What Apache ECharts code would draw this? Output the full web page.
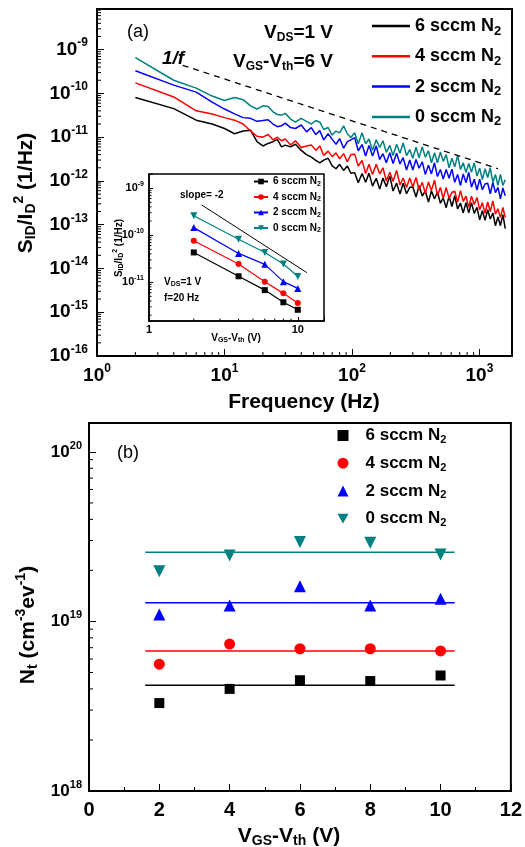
<!DOCTYPE html>
<html>
<head>
<meta charset="utf-8">
<script src="https://cdn.jsdelivr.net/npm/echarts@6/dist/echarts.min.js"></script>
<style>
html, body { margin: 0; padding: 0; background: #fff; }
#chart { width: 525px; height: 847px; }
</style>
</head>
<body>
<div id="chart"></div>
<script>
var dom = document.getElementById("chart");
var myChart = echarts.init(dom);
var option = null;

var FONT = '"Liberation Sans", Arial, sans-serif';

// ---- panel (a): noise spectra ----
var freq = [2, 4, 6, 8, 10, 12, 14, 16, 18, 20, 22, 24, 26, 28, 30, 33, 36, 40, 44, 48,
    52, 56, 60, 65, 70, 75, 80, 86, 92, 98, 105, 112, 120, 128, 136, 145, 155, 165, 175, 186,
    198, 210, 224, 238, 252, 268, 284, 300, 318, 336, 356, 376, 398, 420, 444, 468, 494, 520, 548, 578,
    608, 640, 674, 710, 746, 784, 824, 866, 910, 956, 1004, 1054, 1106, 1160, 1216, 1274, 1334, 1396, 1460, 1526,
    1594];

var spec6 = [8.1e-11, 4.5e-11, 2.45e-11, 2.0e-11, 1.58e-11, 1.2e-11, 1.38e-11, 1.45e-11, 7.9e-12, 6.3e-12,
    7.2e-12, 7.9e-12, 8.9e-12, 6.0e-12, 6.6e-12, 6.0e-12, 6.9e-12, 5.0e-12, 4.0e-12, 3.5e-12,
    2.95e-12, 2.6e-12, 3.0e-12, 3.3e-12, 2.2e-12, 1.9e-12, 2.4e-12, 1.74e-12, 2.2e-12, 1.5e-12,
    1.55e-12, 9.1e-13, 1.48e-12, 9.3e-13, 1.51e-12, 7.6e-13, 1.15e-12, 6.5e-13, 1.17e-12, 7.4e-13,
    1.29e-12, 5.9e-13, 8.9e-13, 5.0e-13, 8.9e-13, 5.1e-13, 7.1e-13, 7.4e-13, 4.3e-13, 7.8e-13,
    4.5e-13, 5.9e-13, 3.3e-13, 5.9e-13, 3.9e-13, 5.6e-13, 3.1e-13, 4.1e-13, 2.45e-13, 4.5e-13,
    2.6e-13, 4.6e-13, 2.3e-13, 3.1e-13, 1.86e-13, 3.2e-13, 1.86e-13, 3.2e-13, 1.82e-13, 2.5e-13,
    1.29e-13, 2.1e-13, 1.26e-13, 2.2e-13, 1.35e-13, 1.86e-13, 9.5e-14, 1.51e-13, 9.5e-14, 1.7e-13,
    8.1e-14];
var spec4 = [1.74e-10, 8.3e-11, 4.0e-11, 3.4e-11, 2.8e-11, 2.45e-11, 2.0e-11, 1.38e-11, 1.05e-11, 1.0e-11,
    1.15e-11, 8.7e-12, 1.0e-11, 8.3e-12, 9.1e-12, 6.6e-12, 8.3e-12, 5.8e-12, 6.3e-12, 6.6e-12,
    5.0e-12, 6.3e-12, 3.8e-12, 4.8e-12, 3.6e-12, 4.4e-12, 3.2e-12, 4.2e-12, 2.75e-12, 4.0e-12,
    4.1e-12, 2.2e-12, 2.95e-12, 1.48e-12, 2.4e-12, 1.41e-12, 2.4e-12, 1.45e-12, 2.0e-12, 1.0e-12,
    1.58e-12, 9.8e-13, 1.74e-12, 8.1e-13, 1.17e-12, 7.1e-13, 1.17e-12, 7.4e-13, 1.2e-12, 6.2e-13,
    9.3e-13, 5.2e-13, 9.5e-13, 6.0e-13, 1.05e-12, 4.7e-13, 7.1e-13, 4.0e-13, 7.1e-13, 4.0e-13,
    5.5e-13, 5.8e-13, 3.3e-13, 6.0e-13, 3.4e-13, 4.5e-13, 2.5e-13, 4.5e-13, 2.9e-13, 4.2e-13,
    2.2e-13, 3.2e-13, 1.82e-13, 3.3e-13, 2.0e-13, 3.5e-13, 1.74e-13, 2.3e-13, 1.45e-13, 2.5e-13,
    1.45e-13];
var spec2 = [3.3e-10, 1.55e-10, 1.07e-10, 6.3e-11, 4.4e-11, 3.4e-11, 2.8e-11, 2.7e-11, 2.3e-11, 2.4e-11,
    2.5e-11, 2.0e-11, 1.74e-11, 1.82e-11, 2.1e-11, 1.66e-11, 1.58e-11, 1.9e-11, 1.32e-11, 1.66e-11,
    1.15e-11, 1.41e-11, 8.7e-12, 1.2e-11, 8.9e-12, 6.9e-12, 9.3e-12, 5.6e-12, 7.9e-12, 8.7e-12,
    9.8e-12, 4.9e-12, 6.8e-12, 3.7e-12, 6.5e-12, 3.7e-12, 6.3e-12, 3.1e-12, 4.2e-12, 2.6e-12,
    4.4e-12, 2.5e-12, 4.3e-12, 2.45e-12, 3.4e-12, 1.78e-12, 3.0e-12, 1.78e-12, 3.1e-12, 1.95e-12,
    2.75e-12, 1.41e-12, 2.3e-12, 1.45e-12, 2.6e-12, 1.26e-12, 1.82e-12, 1.1e-12, 1.82e-12, 1.15e-12,
    1.86e-12, 9.3e-13, 1.41e-12, 7.9e-13, 1.45e-12, 9.1e-13, 1.58e-12, 7.2e-13, 1.1e-12, 6.2e-13,
    1.1e-12, 6.3e-13, 8.5e-13, 8.9e-13, 5.1e-13, 9.3e-13, 5.4e-13, 7.1e-13, 3.9e-13, 6.9e-13,
    4.6e-13];
var spec0 = [6.6e-10, 2.0e-10, 1.32e-10, 8.7e-11, 6.9e-11, 8.1e-11, 7.2e-11, 5.2e-11, 4.4e-11, 5.2e-11,
    5.0e-11, 3.8e-11, 3.3e-11, 3.2e-11, 3.5e-11, 2.6e-11, 2.2e-11, 2.7e-11, 2.3e-11, 2.0e-11,
    2.4e-11, 2.2e-11, 1.5e-11, 1.66e-11, 1.12e-11, 1.38e-11, 1.26e-11, 1.82e-11, 1.2e-11, 9.8e-12,
    1.26e-11, 7.1e-12, 1.26e-11, 7.1e-12, 9.1e-12, 5.0e-12, 8.7e-12, 5.8e-12, 8.3e-12, 4.5e-12,
    6.5e-12, 3.8e-12, 6.9e-12, 4.3e-12, 7.4e-12, 3.8e-12, 5.2e-12, 3.3e-12, 5.9e-12, 3.4e-12,
    6.0e-12, 3.5e-12, 4.9e-12, 2.6e-12, 4.4e-12, 2.6e-12, 4.6e-12, 2.8e-12, 4.0e-12, 2.0e-12,
    3.3e-12, 2.1e-12, 3.8e-12, 1.82e-12, 2.6e-12, 1.55e-12, 2.5e-12, 1.58e-12, 2.6e-12, 1.29e-12,
    1.95e-12, 1.07e-12, 1.9e-12, 1.2e-12, 2.0e-12, 9.3e-13, 1.41e-12, 7.9e-13, 1.41e-12, 7.9e-13,
    1.07e-12];
var oneOverF = [[4.7, 4.4e-10], [1400, 1.9e-12]];

// ---- inset: S/I^2 at 20 Hz vs VGS-Vth ----
var insetV = [2, 4, 6, 8, 10];
var inset6 = [4.3e-11, 1.34e-11, 6.8e-12, 3.75e-12, 2.6e-12];
var inset4 = [7.6e-11, 2.45e-11, 1.03e-11, 5.8e-12, 3.6e-12];
var inset2 = [1.45e-10, 4.1e-11, 2.4e-11, 1.03e-11, 7.4e-12];
var inset0 = [2.6e-10, 8.2e-11, 4.3e-11, 2.45e-11, 1.32e-11];
var slopeLine = [[2.26, 4.4e-10], [11.5, 1.6e-11]];

// ---- panel (b): trap density ----
var vgs = [2, 4, 6, 8, 10];
var nt6 = [3.3e18, 4.0e18, 4.5e18, 4.45e18, 4.8e18];
var nt4 = [5.6e18, 7.35e18, 6.9e18, 6.9e18, 6.7e18];
var nt2 = [1.1e19, 1.24e19, 1.61e19, 1.24e19, 1.36e19];
var nt0 = [1.98e19, 2.45e19, 2.94e19, 2.91e19, 2.48e19];
var ntFit = [4.2e18, 6.7e18, 1.29e19, 2.56e19];
var fitRange = [1.6, 10.4];

var labels = ['6 sccm N', '4 sccm N', '2 sccm N', '0 sccm N'];
var colors = ['#000000', '#ff0000', '#0000ff', '#008080'];
var symbols = ['rect', 'circle', 'triangle', 'path://M0,0L10,0L5,9Z'];

function pairs(xs, ys) {
    return xs.map(function (x, i) { return [x, ys[i]]; });
}

function rich(base, small, up, down) {
    return {
        b: {fontSize: base, fontWeight: 'bold', fontFamily: FONT, color: '#000', fill: '#000'},
        p: {fontSize: small, fontWeight: 'bold', fontFamily: FONT, color: '#000', fill: '#000', padding: [0, 0, up, 0]},
        d: {fontSize: small, fontWeight: 'bold', fontFamily: FONT, color: '#000', fill: '#000', padding: [down, 0, 0, 0]},
        n: {fontSize: base, fontWeight: 'normal', fontFamily: FONT, color: '#000', fill: '#000'},
        i: {fontSize: base, fontWeight: 'bold', fontStyle: 'italic', fontFamily: FONT, color: '#000', fill: '#000'}
    };
}

function powLabel(v) {
    var l = Math.log10(v);
    var e = Math.round(l);
    if (Math.abs(l - e) > 1e-6) return '';
    return '{b|10}{p|' + e + '}';
}

// minor ticks at 2..9 x 10^k between lo and hi
function logMinors(lo, hi) {
    var out = [];
    for (var k = Math.floor(Math.log10(lo)); k <= Math.ceil(Math.log10(hi)); k++) {
        for (var m = 2; m <= 9; m++) {
            var v = m * Math.pow(10, k);
            if (v > lo && v < hi) out.push(v);
        }
    }
    return out;
}

function minorTicks(gi, vals, dim, base, len, z) {
    return {
        type: 'custom',
        xAxisIndex: gi, yAxisIndex: gi,
        silent: true, clip: false, z: z || 5,
        data: vals.map(function (v) { return dim === 'x' ? [v, base] : [base, v]; }),
        renderItem: function (params, api) {
            var p = api.coord([api.value(0), api.value(1)]);
            var shape = dim === 'x'
                ? {x1: p[0], y1: p[1], x2: p[0], y2: p[1] - len}
                : {x1: p[0], y1: p[1], x2: p[0] + len, y2: p[1]};
            return {type: 'line', shape: shape, style: {stroke: '#000', lineWidth: 1}};
        }
    };
}

function txt(x, y, text, r, align, rot, z) {
    return {
        type: 'text', x: x, y: y, rotation: rot || 0, z: z || 50,
        style: {
            text: text, rich: r, x: 0, y: 0, fill: '#000',
            fontFamily: FONT, fontWeight: 'bold', fontSize: 14,
            align: align, textAlign: align,
            verticalAlign: 'middle', textVerticalAlign: 'middle'
        }
    };
}

var axisLineStyle = {show: true, lineStyle: {color: '#000', width: 2}};
var tickStyle = {show: true, inside: true, length: 7, lineStyle: {color: '#000', width: 1}};
var insetTick = {show: true, inside: true, length: 4, lineStyle: {color: '#000', width: 1}};

var series = [];

// panel (a) spectra
[spec6, spec4, spec2, spec0].forEach(function (s, i) {
    series.push({
        name: 'a' + i, type: 'line', xAxisIndex: 0, yAxisIndex: 0,
        data: pairs(freq, s), symbol: 'none', showSymbol: false,
        lineStyle: {color: colors[i], width: 1.5}, itemStyle: {color: colors[i]},
        z: 2, animation: false
    });
});
series.push({
    type: 'line', xAxisIndex: 0, yAxisIndex: 0, data: oneOverF, symbol: 'none',
    lineStyle: {color: '#000', width: 1.3, type: [6, 5]}, z: 2, animation: false
});

// inset
[inset6, inset4, inset2, inset0].forEach(function (s, i) {
    series.push({
        name: 'i' + i, type: 'line', xAxisIndex: 1, yAxisIndex: 1,
        data: pairs(insetV, s), symbol: symbols[i], symbolSize: i < 2 ? 6 : 7,
        lineStyle: {color: colors[i], width: 1.2}, itemStyle: {color: colors[i]},
        z: 8, animation: false
    });
});
series.push({
    type: 'line', xAxisIndex: 1, yAxisIndex: 1, data: slopeLine, symbol: 'none',
    lineStyle: {color: '#000', width: 1}, z: 8, animation: false
});

// panel (b)
[nt6, nt4, nt2, nt0].forEach(function (s, i) {
    series.push({
        name: 'b' + i, type: 'scatter', xAxisIndex: 2, yAxisIndex: 2,
        data: pairs(vgs, s), symbol: symbols[i], symbolSize: [10, 11, 12, 12][i],
        itemStyle: {color: colors[i], opacity: 1}, z: 4, animation: false
    });
    series.push({
        type: 'line', xAxisIndex: 2, yAxisIndex: 2,
        data: [[fitRange[0], ntFit[i]], [fitRange[1], ntFit[i]]], symbol: 'none',
        lineStyle: {color: colors[i], width: 1.5}, z: 3, animation: false
    });
});

// minor ticks
series.push(minorTicks(0, logMinors(1, 1800), 'x', 1e-16, 4));
series.push(minorTicks(0, logMinors(1e-16, 8.5e-9), 'y', 1, 4));
series.push(minorTicks(1, logMinors(1, 15), 'x', 1.5e-12, 2.5, 9));
series.push(minorTicks(1, logMinors(1.5e-12, 2e-9), 'y', 1, 2.5, 9));
series.push(minorTicks(2, logMinors(1e18, 1.48e20), 'y', 0, 4));

function legendFmt(n) {
    return '{b|' + labels[+n.slice(1)] + '}{d|2}';
}

option = {
    backgroundColor: '#fff',
    animation: false,
    grid: [
        {left: 97, top: 9, width: 415, height: 347, show: true, borderColor: '#000', borderWidth: 2, backgroundColor: 'transparent'},
        {left: 149, top: 174, width: 175, height: 147, show: true, borderColor: '#000', borderWidth: 1.5, backgroundColor: '#fff', z: 6},
        {left: 89, top: 423, width: 423, height: 368, show: true, borderColor: '#000', borderWidth: 2, backgroundColor: 'transparent'}
    ],
    xAxis: [
        {
            gridIndex: 0, type: 'log', logBase: 10, min: 1, max: 1800,
            axisLine: axisLineStyle, axisTick: tickStyle, splitLine: {show: false},
            axisLabel: {margin: 7, formatter: powLabel, rich: rich(19, 12, 13, 0)}
        },
        {
            gridIndex: 1, type: 'log', logBase: 10, min: 1, max: 15, z: 7,
            axisLine: {show: true, lineStyle: {color: '#000', width: 1.5}}, axisTick: insetTick, splitLine: {show: false},
            axisLabel: {
                margin: 3, fontSize: 11, fontWeight: 'bold', fontFamily: FONT, color: '#000',
                formatter: function (v) {
                    var l = Math.log10(v);
                    return Math.abs(l - Math.round(l)) < 1e-6 ? String(Math.round(v)) : '';
                }
            }
        },
        {
            gridIndex: 2, type: 'value', min: 0, max: 12, interval: 2,
            axisLine: axisLineStyle, axisTick: tickStyle, splitLine: {show: false},
            minorTick: {show: true, splitNumber: 2, length: 4, lineStyle: {color: '#000', width: 1}},
            axisLabel: {margin: 9, fontSize: 20, fontWeight: 'bold', fontFamily: FONT, color: '#000'}
        }
    ],
    yAxis: [
        {
            gridIndex: 0, type: 'log', logBase: 10, min: 1e-16, max: 8.5e-9, splitNumber: 8,
            axisLine: axisLineStyle, axisTick: tickStyle, splitLine: {show: false},
            axisLabel: {margin: 9, formatter: powLabel, rich: rich(19, 12, 13, 0)}
        },
        {
            gridIndex: 1, type: 'log', logBase: 10, min: 1.5e-12, max: 2e-9, z: 7,
            axisLine: {show: true, lineStyle: {color: '#000', width: 1.5}}, axisTick: insetTick, splitLine: {show: false},
            axisLabel: {margin: 5, formatter: powLabel, rich: rich(11, 7, 8, 0)}
        },
        {
            gridIndex: 2, type: 'log', logBase: 10, min: 1e18, max: 1.48e20,
            axisLine: axisLineStyle, axisTick: tickStyle, splitLine: {show: false},
            axisLabel: {margin: 7, formatter: powLabel, rich: rich(17, 11, 12, 0)}
        }
    ],
    legend: [
        {
            data: ['a0', 'a1', 'a2', 'a3'], orient: 'vertical', left: 367, top: 12,
            icon: 'rect', itemWidth: 38, itemHeight: 2.5, itemGap: 9.8, selectedMode: false,
            formatter: legendFmt,
            textStyle: {rich: rich(18, 13, 0, 10)}
        },
        {
            data: ['i0', 'i1', 'i2', 'i3'], orient: 'vertical', left: 248, top: 171.5,
            itemWidth: 14, itemHeight: 7, itemGap: 4.5, selectedMode: false, z: 9,
            formatter: legendFmt,
            textStyle: {rich: rich(10, 7, 0, 5)}
        },
        {
            data: ['b0', 'b1', 'b2', 'b3'], orient: 'vertical', left: 332.5, top: 422,
            itemWidth: 11, itemHeight: 11, itemGap: 9.2, selectedMode: false,
            formatter: legendFmt,
            textStyle: {padding: [0, 0, 0, 12], rich: rich(17, 11, 0, 9)}
        }
    ],
    graphic: [
        txt(127, 32, '{n|(a)}', rich(18, 12, 0, 0), 'left'),
        txt(333, 33, '{b|V}{d|DS}{b|=1 V}', rich(19, 12, 0, 10), 'right'),
        txt(333, 62, '{b|V}{d|GS}{b|-V}{d|th}{b|=6 V}', rich(19, 12, 0, 10), 'right'),
        txt(162, 59, '{i|1/f}', rich(19, 12, 0, 0), 'left'),
        txt(304, 402, '{b|Frequency (Hz)}', rich(21, 14, 0, 0), 'center'),
        txt(26, 193, '{b|S}{d|ID}{b|/I}{d|D}{p|2}{b| (1/Hz)}', rich(21, 14, 14, 10), 'center', Math.PI / 2),
        txt(180, 195, '{b|slope= -2}', rich(10, 7, 0, 0), 'left', 0, 60),
        txt(164, 282, '{b|V}{d|DS}{b|=1 V}', rich(10, 7, 0, 5), 'left', 0, 60),
        txt(164, 298, '{b|f=20 Hz}', rich(10, 7, 0, 0), 'left', 0, 60),
        txt(119, 248, '{b|S}{d|ID}{b|/I}{d|D}{p|2}{b| (1/Hz)}', rich(10, 7, 7, 5), 'center', Math.PI / 2, 60),
        txt(236, 338, '{b|V}{d|GS}{b|-V}{d|th}{b| (V)}', rich(10, 7, 0, 5), 'center', 0, 60),
        txt(117, 453, '{n|(b)}', rich(18, 12, 0, 0), 'left'),
        txt(28, 625, '{b|N}{d|t}{b| (cm}{p|-3}{b|ev}{p|-1}{b|)}', rich(21, 14, 14, 10), 'center', Math.PI / 2),
        txt(289, 836, '{b|V}{d|GS}{b|-V}{d|th}{b| (V)}', rich(21, 14, 0, 10), 'center')
    ],
    series: series
};

if (option && typeof option === "object") {
    myChart.setOption(option, true);
}
</script>
</body>
</html>
